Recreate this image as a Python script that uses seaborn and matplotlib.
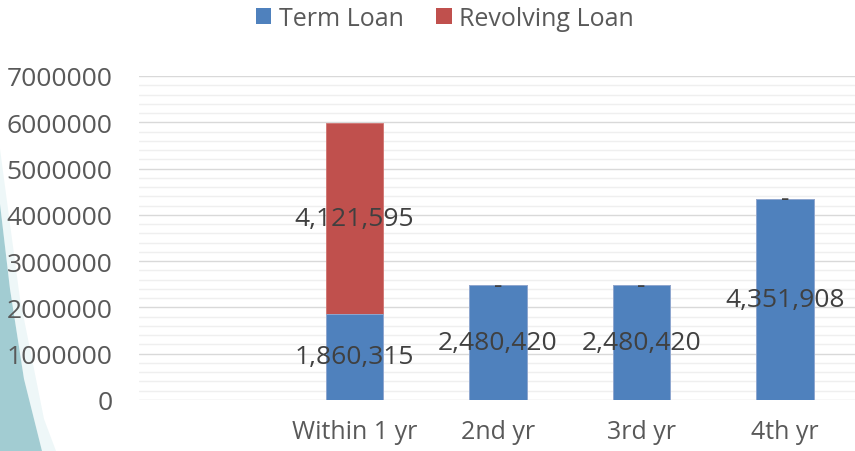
import matplotlib
matplotlib.use("Agg")
import matplotlib.pyplot as plt
import seaborn as sns
import pandas as pd
from matplotlib.patches import Patch, Polygon
from matplotlib.ticker import MultipleLocator

# ---- data ----
categories = ["", "Within 1 yr", "2nd yr", "3rd yr", "4th yr"]
data_categories = ["Within 1 yr", "2nd yr", "3rd yr", "4th yr"]
term_loan = [1860315, 2480420, 2480420, 4351908]
revolving_loan = [4121595, 0, 0, 0]
term_labels = ["1,860,315", "2,480,420", "2,480,420", "4,351,908"]
revolving_labels = ["4,121,595", "-", "-", "-"]
series_names = ["Term Loan", "Revolving Loan"]
y_ticks = [0, 1000000, 2000000, 3000000, 4000000, 5000000, 6000000, 7000000]

BLUE = "#4F81BD"
RED = "#C0504D"
TEXT = "#595959"
LABEL = "#404040"

sns.set_theme(style="white")
plt.rcParams["font.family"] = ["Open Sans", "DejaVu Sans"]

df = pd.DataFrame({
    "cat": data_categories,
    "term": term_loan,
    "rev": revolving_loan,
})
df["total"] = df["term"] + df["rev"]

fig = plt.figure(figsize=(8.55, 4.52), dpi=100)
W, H = 855, 452

# background slide decoration (left teal wedge)
deco = Polygon([(0 / W, 1 - 205 / H), (10 / W, 1 - 290 / H), (24 / W, 1 - 380 / H),
                (42 / W, 0), (0, 0)], closed=True, transform=fig.transFigure,
               facecolor="#A2CCD2", edgecolor="none", zorder=-5)
fig.patches.append(deco)
deco2 = Polygon([(0 / W, 1 - 150 / H), (20 / W, 1 - 300 / H), (44 / W, 1 - 420 / H),
                 (56 / W, 0), (42 / W, 0), (24 / W, 1 - 380 / H), (10 / W, 1 - 290 / H),
                 (0, 1 - 205 / H)], closed=True, transform=fig.transFigure,
                facecolor="#EEF7F8", edgecolor="none", zorder=-6)
fig.patches.append(deco2)

ax = fig.add_axes([139 / W, 51 / H, (857 - 139) / W, (401 - 77) / H])
ax.patch.set_alpha(0)

sns.barplot(data=df, x="cat", y="total", order=categories, color=RED,
            width=0.4, ax=ax, edgecolor="#D07370", linewidth=0.6,
            saturation=1, zorder=3, errorbar=None)
sns.barplot(data=df, x="cat", y="term", order=categories, color=BLUE,
            width=0.4, ax=ax, edgecolor="#8FB0DA", linewidth=0.6,
            saturation=1, zorder=4, errorbar=None)

ax.set_ylim(0, 7000000)
ax.set_xlim(-0.5, 4.5)
ax.set_yticks(y_ticks)
ax.set_yticklabels([str(v) for v in y_ticks])
ax.yaxis.set_minor_locator(MultipleLocator(200000))
ax.grid(axis="y", which="major", color="#D9D9D9", linewidth=1.0, zorder=0)
ax.grid(axis="y", which="minor", color="#EFEFEF", linewidth=1.0, zorder=0)
ax.grid(axis="x", visible=False)
ax.set_axisbelow(True)
for s in ax.spines.values():
    s.set_visible(False)
ax.set_xlabel("")
ax.set_ylabel("")
ax.tick_params(axis="y", which="both", length=0, pad=19, labelsize=19, labelcolor=TEXT)
ax.tick_params(axis="x", which="both", length=0, pad=14, labelsize=18, labelcolor=TEXT)

# data labels
for i, cat in enumerate(data_categories):
    xi = categories.index(cat)
    t = term_loan[i]
    r = revolving_loan[i]
    ax.text(xi, t / 2, term_labels[i], ha="center", va="center",
            fontsize=19, color=LABEL, zorder=6)
    ax.text(xi, t + r / 2, revolving_labels[i], ha="center", va="center",
            fontsize=19, color=LABEL, zorder=6)

handles = [Patch(facecolor=BLUE, edgecolor="none"), Patch(facecolor=RED, edgecolor="none")]
fig.legend(handles, series_names, loc="center", bbox_to_anchor=(445 / W, 1 - 19 / H),
           ncol=2, frameon=False, fontsize=18, labelcolor=TEXT,
           handlelength=0.62, handleheight=0.62, handletextpad=0.3,
           columnspacing=1.3, borderpad=0)

fig.savefig("out.png", dpi=100)
